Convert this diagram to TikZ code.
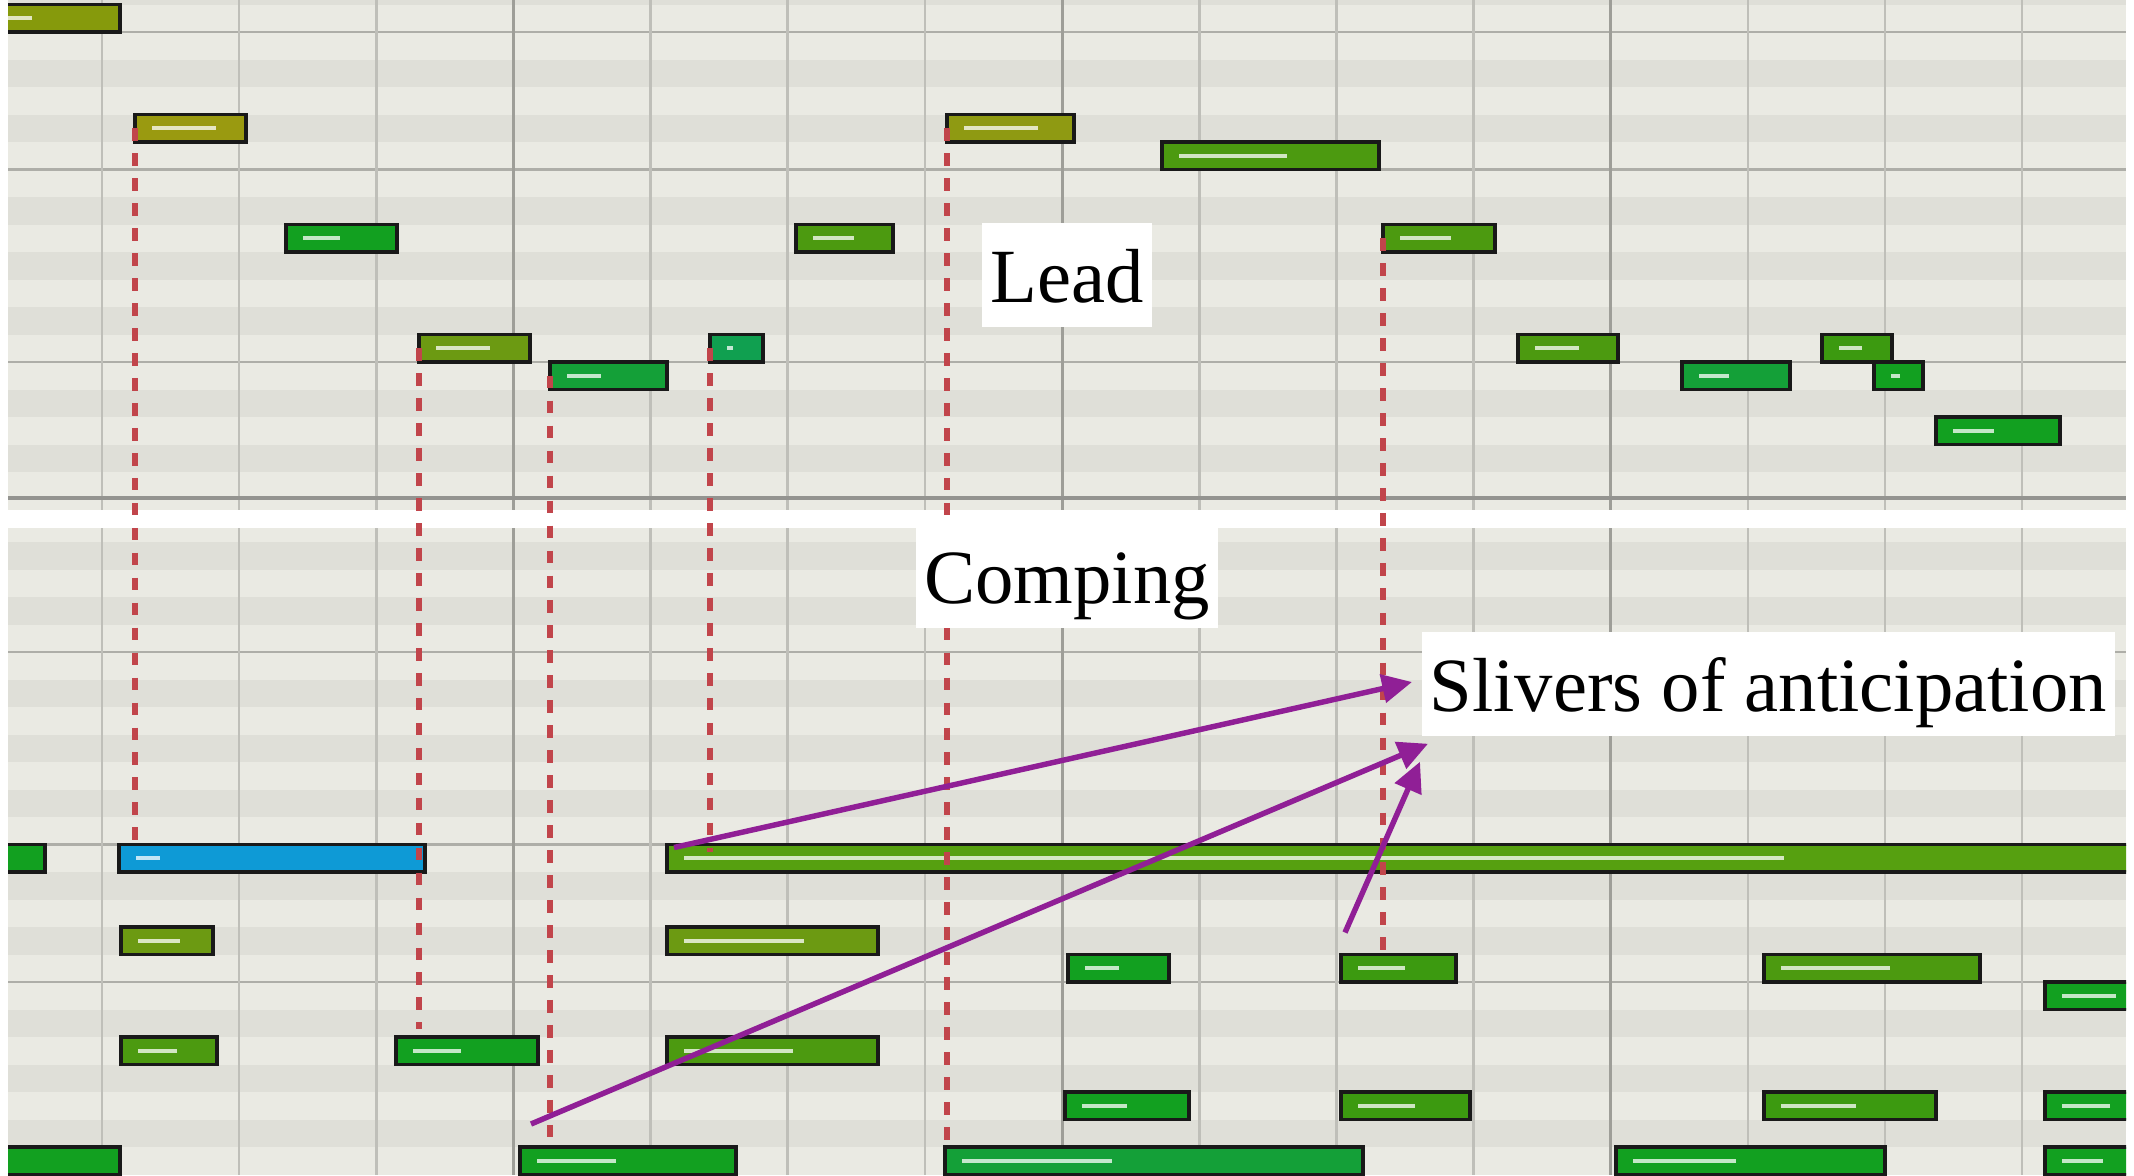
\documentclass[tikz,border=0pt]{standalone}
\usepackage{fontspec}
\setmainfont{Liberation Serif}
\usetikzlibrary{arrows.meta,calc}

% piano-roll palette
\definecolor{rowlight}{HTML}{EAEAE3}
\definecolor{rowdark}{HTML}{DFDFD8}
\definecolor{beatgray}{HTML}{BFBFB9}
\definecolor{bargray}{HTML}{9E9E98}
\definecolor{keygray}{HTML}{AEAEA8}
\definecolor{panelgray}{HTML}{949490}
\definecolor{nOliveA}{HTML}{869A0C}
\definecolor{nOliveB}{HTML}{9A9A10}
\definecolor{nOliveC}{HTML}{8F9A12}
\definecolor{nYG}{HTML}{6C9A12}
\definecolor{nLeaf}{HTML}{4C9A10}
\definecolor{nLeafB}{HTML}{3C9A10}
\definecolor{nGreen}{HTML}{12A020}
\definecolor{nSea}{HTML}{14A038}
\definecolor{nTeal}{HTML}{10A050}
\definecolor{nBlue}{HTML}{0E9AD6}
\definecolor{nLong}{HTML}{56A010}
\definecolor{dashred}{HTML}{C1454B}
\definecolor{calloutpurple}{HTML}{901F96}

% \pnote{name}{x start}{x end}{row top}{colour}{velocity bar length}
\newcommand{\pnote}[6]{%
  \pgfmathsetmacro{\notew}{(#3-(#2))*0.01}%
  \node[notebox, fill=#5, minimum width=\notew cm, anchor=north west] (#1) at (#2,#4) {};%
  \ifnum#6>0\relax
    \draw[velbar, draw=#5!25!white] ($(#1.north west)+(17,13.75)$) -- ++(#6,0);%
  \fi}

\begin{document}
\begin{tikzpicture}[x=0.01cm,y=-0.01cm,
  notebox/.style={draw=black!90, line width=1.1pt, rectangle, inner sep=0pt, outer sep=0pt, minimum height=0.275cm},
  velbar/.style={line width=1.05pt},
  beatline/.style={draw=beatgray, line width=0.75pt},
  barline/.style={draw=bargray, line width=0.85pt},
  keyline/.style={draw=keygray, line width=0.75pt},
  panelline/.style={draw=panelgray, line width=1.3pt},
  leadline/.style={draw=dashred, line width=1.8pt, dash pattern=on 3.6pt off 3.5pt},
  callout/.style={draw=calloutpurple, line width=1.55pt, -{Triangle[length=8.5pt,width=8pt]}},
  tag/.style={fill=white, inner xsep=0.08cm, inner ysep=0.09cm, text height=0.7cm, text depth=0.16cm, font=\fontsize{21.8pt}{26pt}\selectfont}
]
\useasboundingbox (0,0) rectangle (2134,1175);
\fill[white] (0,0) rectangle (2134,1175);

% ---------- upper roll: lead ----------
\begin{scope}
  \clip (8,0) rectangle (2126,510);
  \fill[rowlight] (8,0) rectangle (2126,510);
  \foreach \k in {-2,1,3,6,8,10,13,15}
    \fill[rowdark] (8,{32+27.5*\k}) rectangle (2126,{32+27.5*(\k+1)});
  \foreach \k in {0,5,12}
    \draw[keyline] (8,{32+27.5*\k}) -- (2126,{32+27.5*\k});
  \foreach \n in {0,...,14}
    \draw[beatline] ({102+137.15*\n},0) -- ({102+137.15*\n},510);
  \foreach \n in {3,7,11}
    \draw[barline] ({102+137.15*\n},0) -- ({102+137.15*\n},510);
  \draw[panelline] (8,498) -- (2126,498);

  \pnote{l1}{-10}{120}{4.5}{nOliveA}{25}
  \pnote{l2}{135}{246}{114.5}{nOliveB}{64}
  \pnote{l3}{286}{397}{224.5}{nGreen}{37}
  \pnote{l4}{419}{530}{334.5}{nYG}{54}
  \pnote{l5}{550}{667}{362}{nSea}{34}
  \pnote{l6}{710}{763}{334.5}{nTeal}{6}
  \pnote{l7}{796}{893}{224.5}{nLeaf}{41}
  \pnote{l8}{947}{1074}{114.5}{nOliveC}{74}
  \pnote{l9}{1162}{1379}{142}{nLeaf}{108}
  \pnote{l10}{1383}{1495}{224.5}{nLeaf}{51}
  \pnote{l11}{1518}{1618}{334.5}{nLeaf}{44}
  \pnote{l12}{1682}{1790}{362}{nSea}{30}
  \pnote{l13}{1822}{1892}{334.5}{nLeafB}{23}
  \pnote{l14}{1874}{1923}{362}{nGreen}{9}
  \pnote{l15}{1936}{2060}{417}{nGreen}{41}
\end{scope}

% ---------- lower roll: comping ----------
\begin{scope}
  \clip (8,528) rectangle (2126,1175);
  \fill[rowlight] (8,528) rectangle (2126,1175);
  \foreach \k in {1,3,6,8,10,13,15,18,20,22}
    \fill[rowdark] (8,{514.5+27.5*\k}) rectangle (2126,{514.5+27.5*(\k+1)});
  \foreach \k in {5,12,17}
    \draw[keyline] (8,{514.5+27.5*\k}) -- (2126,{514.5+27.5*\k});
  \foreach \n in {0,...,14}
    \draw[beatline] ({102+137.15*\n},528) -- ({102+137.15*\n},1175);
  \foreach \n in {3,7,11}
    \draw[barline] ({102+137.15*\n},528) -- ({102+137.15*\n},1175);

  \pnote{cA}{-10}{45}{844.5}{nGreen}{0}
  \pnote{blue}{119}{425}{844.5}{nBlue}{24}
  \pnote{long}{667}{2150}{844.5}{nLong}{1100}
  \pnote{cB}{121}{213}{927}{nYG}{42}
  \pnote{cG}{667}{878}{927}{nYG}{120}
  \pnote{cI}{1068}{1169}{954.5}{nGreen}{34}
  \pnote{cJ}{1341}{1456}{954.5}{nLeafB}{47}
  \pnote{cN}{1764}{1980}{954.5}{nLeaf}{109}
  \pnote{cO}{2045}{2150}{982}{nGreen}{54}
  \pnote{cC}{121}{217}{1037}{nLeaf}{39}
  \pnote{cD}{396}{538}{1037}{nGreen}{48}
  \pnote{cH}{667}{878}{1037}{nLeaf}{109}
  \pnote{cK}{1065}{1189}{1092}{nGreen}{45}
  \pnote{cL}{1341}{1470}{1092}{nLeafB}{57}
  \pnote{cP}{1764}{1936}{1092}{nLeafB}{75}
  \pnote{cQ}{2045}{2150}{1092}{nGreen}{48}
  \pnote{cE}{-10}{120}{1147}{nGreen}{0}
  \pnote{cF}{520}{736}{1147}{nGreen}{79}
  \pnote{cM}{945}{1363}{1147}{nSea}{150}
  \pnote{cR}{1616}{1885}{1147}{nGreen}{103}
  \pnote{cS}{2045}{2150}{1147}{nGreen}{41}
\end{scope}

% ---------- onset guides from lead notes down to the comping ----------
\draw[leadline] (l2.west) -- ($(l2.west |- blue.north)+(0,-4)$);
\draw[leadline] (l4.west) -- ($(l4.west |- cD.north)+(0,-8)$);
\draw[leadline] (l5.west) -- ($(l5.west |- cF.north)+(0,-5)$);
\draw[leadline] (l6.west) -- ($(l6.west |- long.north)+(0,7)$);
\draw[leadline] (l8.west) -- ($(l8.west |- cM.north)+(0,-3)$);
\draw[leadline] (l10.west) -- ($(l10.west |- cJ.north)+(0,7)$);

% ---------- labels ----------
\node[tag, anchor=base] (lead) at (1067,302) {Lead};
\node[tag, anchor=base] (comp) at (1067,603) {Comping};
\node[tag, anchor=base west] (sliv) at (1421,711) {Slivers of anticipation};

% ---------- call-outs ----------
\coordinate (s1) at ($(long.north west)+(7,3)$);
\coordinate (s2) at ($(cF.north west)+(11,-23)$);
\coordinate (s3) at ($(cJ.north west)+(4,-22)$);
\coordinate (t1) at ($(sliv.west)+(-9,-2)$);
\coordinate (t2) at ($(sliv.south west)+(7,7)$);
\coordinate (t3) at ($(sliv.south west)+(-1,25)$);
\draw[callout] (s1) -- (t1);
\draw[callout] (s2) -- (t2);
\draw[callout] (s3) -- (t3);
\end{tikzpicture}
\end{document}
